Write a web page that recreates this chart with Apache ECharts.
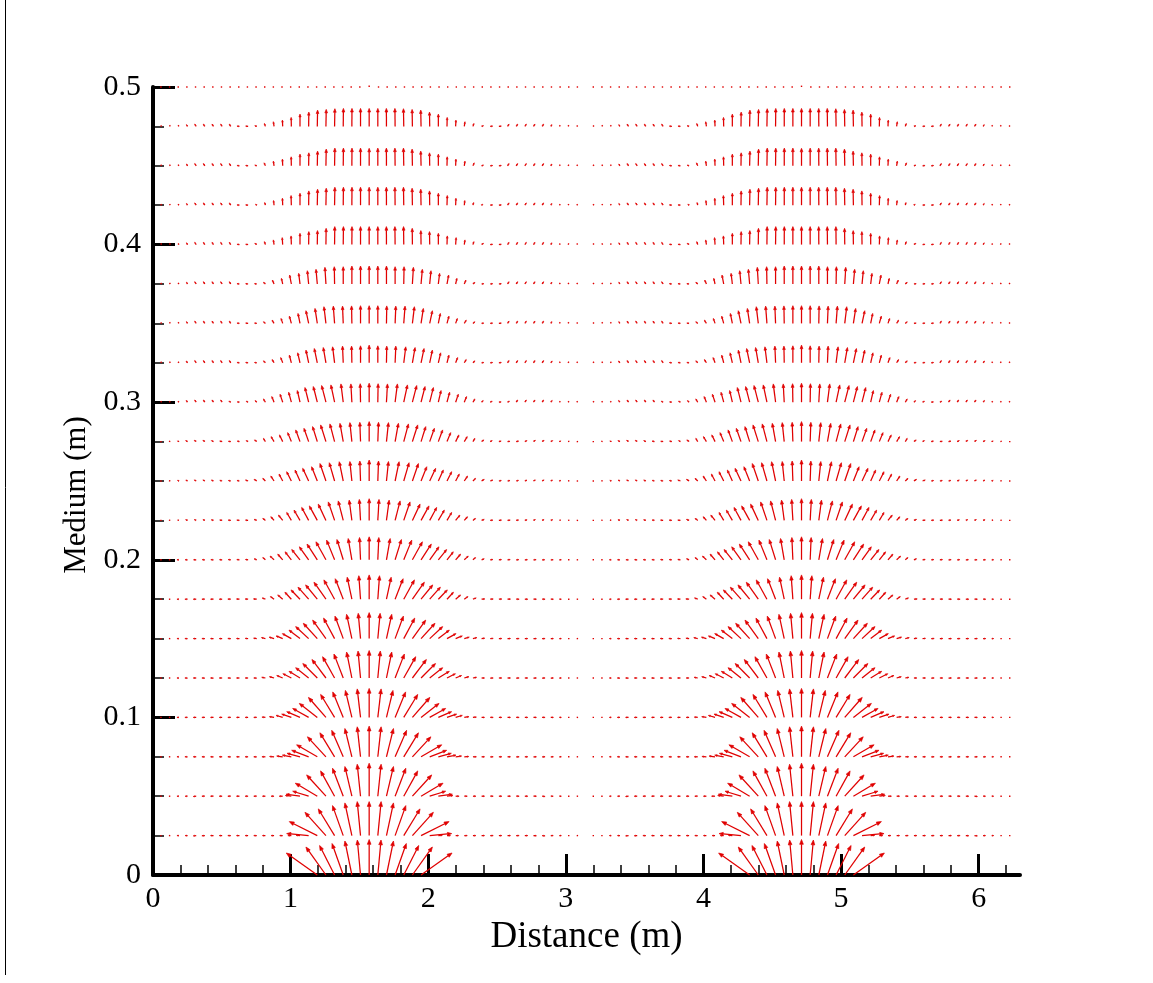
<!DOCTYPE html>
<html>
<head>
<meta charset="utf-8">
<script src="https://cdn.jsdelivr.net/npm/echarts@6/dist/echarts.min.js"></script>
<style>
html,body{margin:0;padding:0;background:#fff;}
#chart{width:1153px;height:983px;}
</style>
</head>
<body>
<div id="chart"></div>
<script>
// ---- axis / grid values ----
const xTickValues = [0, 1, 2, 3, 4, 5, 6];
const rowY = [0, 0.025, 0.05, 0.075, 0.1, 0.125, 0.15, 0.175, 0.2, 0.225, 0.25,
              0.275, 0.3, 0.325, 0.35, 0.375, 0.4, 0.425, 0.45, 0.475, 0.5];
const columnCount = 101;            // columns at k*pi/50, k = 0..100
const columnStep = Math.PI / 50;
const halfPeriod = 50;              // field repeats every 50 columns, mirrored about column 25

// ---- vector components (columns 0..25 of each period, left half of a bump) ----
const u00 = [0,0,0,0,0,0,0,0,0,0,0,0,0,0,0,0,0,0,0,-31,-20,-15,-11.2,-7,-3.2,0];
const v00 = [0,0,0,0,0,0,0,0,0,0,0,0,0,0,0,0,0,0,0,22,28,29.5,31.5,34,35,35.5];
const u01 = [0,-0.7,-1.2,-2,-2.5,-3,-3,-3,-3,-3,-3,-3,-3,-3,-3,-3,-3.5,-4,-22,-28,-21,-16.3,-10.7,-7,-3.3,0];
const v01 = [0,0,0,0,0,-0.3,-0.2,0,0,0,0,0,0,0,0,0,0,0.3,2,14,23.3,26.7,30,32.7,34,34];
const u02 = [0,-0.7,-1.2,-2,-2.5,-3,-3,-3,-3,-3,-3,-3,-3,-3,-3,-3.5,-6,-14,-16,-22,-19.3,-14,-10.7,-7,-3.3,0];
const v02 = [0,0,0,0,0,-0.3,0,0,0,0,0,0,0,0,0,0,0.7,2,5,13,21.3,25.3,28,29.7,32,33];
const u03 = [0,-0.7,-1.2,-2,-2.7,-3,-3,-3,-3,-3,-3,-3,-3,-3.5,-4.5,-6,-9,-13,-17,-20.7,-18.5,-14.7,-11.5,-7,-3.3,0];
const v03 = [0,0,0,0,0,0,0,0,0,0,0,0,0,0,0.3,0.8,1.7,3.5,6.5,12,20,24,26.5,28.3,30,30.7];
const u04 = [0,-0.7,-1.5,-2,-2.7,-3,-3,-3,-3,-3,-3,-3,-3,-3.5,-4.7,-6.7,-9.7,-13.3,-16,-18,-17.5,-14,-10.5,-6.5,-3.3,0];
const v04 = [0,0,0,0,0,0,0,0,0,0,0,0,0,0.3,0.7,2,3.3,5.7,9,14,20,23,25.5,27,28.5,29];
const u05 = [0,-0.7,-1.5,-2,-2.7,-3,-3,-3,-3,-3,-3,-3,-3,-3.7,-4.7,-6,-8.5,-11,-13,-14.5,-14,-12,-9.3,-5.3,-2.5,0];
const v05 = [0,0,0,0,0,0,0,0,0,0,0,0,0,0.7,1.3,2.5,4.3,6.7,10.3,14.5,18.5,21.3,24,26,27,27.5];
const u06 = [0,-0.7,-1.5,-2,-2.7,-3,-3,-3,-3,-3,-3,-3,-3.2,-4,-5,-6.7,-9,-11,-13,-14,-13.3,-11,-8.3,-5.3,-2.3,0];
const v06 = [0,0,0,0,0,0,0,0,0,0.1,0.1,0.2,0.4,1,1.5,2.7,5,8.5,12,15.3,18.5,20.5,22.5,24.3,25.3,26];
const u07 = [0,-0.7,-1.5,-2,-2.7,-3,-3,-3,-3,-3,-3,-3,-3.3,-3.3,-3.7,-5,-6.5,-9,-10.7,-11.7,-12,-10.7,-8,-4.7,-1.7,0];
const v07 = [0,0,0,0,0,0,0,0,0,0.1,0.2,0.2,0.3,1.3,2.7,4.3,7,9.3,12,14.3,17,19.3,20.5,22,23.5,24.3];
const u08 = [0,-0.7,-1.5,-2,-2.5,-2.7,-2.7,-2.7,-2.7,-2.7,-2.7,-2.7,-2.7,-2.7,-4,-5,-6.3,-8.3,-9.3,-10.3,-10,-8,-6.3,-3.7,-1,0];
const v08 = [0,0,0,0,0,0,0.1,0.1,0.1,0.2,0.2,0.3,1,2.3,3.7,5.7,8,10.3,13,15.7,18,19.7,20.3,21.3,22.3,23];
const u09 = [0,-0.5,-1,-1.5,-2,-2,-2,-2.3,-2.5,-2.7,-2.7,-2.7,-2.7,-2.7,-3.3,-4.3,-4.7,-6,-7,-8,-7.7,-6.3,-5,-2.7,-1.2,0];
const v09 = [0,0,0.2,0.4,0.7,0.8,0.8,0.6,0.4,0.3,0.3,0.3,1,2,3.7,5.3,8,10.3,13,14.5,16.3,18.5,19.5,20.3,21,21.7];
const u10 = [0,-0.5,-1,-1.5,-1.8,-2,-2,-2.2,-2.4,-2.5,-2.5,-2.7,-2.7,-2.7,-3.3,-3.7,-4.7,-5,-6,-5.7,-6,-5.3,-4,-2,-0.7,0];
const v10 = [0,0,0.3,0.6,1,1.1,1.1,0.9,0.6,0.5,0.5,1,1.7,2.7,5,7,9.3,11,12.7,14.3,17.5,18.3,19.3,19.5,20,21];
const u11 = [0,-0.5,-1,-1.5,-2,-2,-2,-2.2,-2.5,-2.5,-2.3,-2,-2.3,-2,-3,-3.3,-3.7,-4.3,-4.7,-4.7,-5.3,-4.7,-3.3,-2,-0.7,0];
const v11 = [0,0,0.3,0.7,1,1.3,1.3,1,0.5,0.3,0.5,1,1.7,3.3,5,6.7,9,11.7,13.3,15,16.7,17.7,18.3,19,19.3,20];
const u12 = [0,-0.3,-0.7,-1,-1.5,-1.6,-1.6,-1.6,-1.6,-2,-2.3,-2,-1.7,-2,-2.3,-2.7,-2.7,-2.7,-3.7,-4,-4.3,-3.7,-2.3,-1,-0.3,0];
const v12 = [0,0.3,0.7,1,1.8,2.2,2.2,2.2,2.2,1,0.3,1,1.7,3.3,5.7,8,10,11.7,14.7,15.7,16.7,17.3,18.3,18.3,18.5,19];
const u13 = [0,-0.3,-0.5,-0.8,-1.5,-1.6,-1.6,-1.6,-1.6,-1.6,-2.5,-2.5,-2.3,-2,-2,-2,-2,-2.3,-2.7,-3,-2.7,-2,-0.7,-0.3,0,0];
const v13 = [0,0.3,0.7,1,1.8,2.3,2.3,2.3,2.3,2.3,0.3,0.3,0.3,2,3.3,5.3,7.7,10,12.7,14.3,15.3,16,16.7,16.7,17,17.7];
const u14 = [0,-0.3,-0.5,-0.7,-1.2,-1.6,-1.6,-1.6,-1.6,-1.6,-2.5,-2.5,-2.3,-2,-2,-1.7,-2,-2,-2.7,-2.3,-2,-1.3,-0.7,-0.3,0,0];
const v14 = [0,0.3,0.7,0.9,1.8,2.3,2.3,2.3,2.3,2.3,0.3,0.3,0.3,1.7,3.3,5,7.3,10,12.7,15,16.7,17.3,17.3,17.5,17.7,17.7];
const u15 = [0,-0.3,-0.5,-0.7,-1.2,-1.6,-1.6,-1.6,-1.6,-1.6,-2.5,-2.5,-2.3,-2,-1.7,-1.3,-1.7,-1.3,-1.3,-1.3,-1,-0.3,0,0,0,0];
const v15 = [0,0.3,0.7,0.9,1.8,2.3,2.3,2.3,2.3,2.3,0.3,0.3,0.3,1.7,4,5.7,9,10.7,13.3,14.7,16.7,17.3,17.3,18,18,18];
const u16 = [0,-0.3,-0.5,-0.7,-1.2,-1.6,-1.6,-1.6,-1.6,-1.6,-2.5,-2.5,-2,-1,-0.7,-0.5,-0.3,0,0.2,0.2,0.2,0.2,0.2,0.1,0,0];
const v16 = [0,0.3,0.7,0.9,1.8,2.3,2.3,2.3,2.3,2.3,0.3,0.3,1.3,3,4.7,7,8.7,11.3,13,14,16.3,18,18,18,18,18];
const u17 = [0,-0.3,-0.5,-0.7,-1.2,-1.6,-1.6,-1.6,-1.6,-1.6,-2.5,-2.5,-1.3,-0.7,-0.5,-0.3,-0.3,0,0.2,0.3,0.3,0.3,0.2,0.1,0,0];
const v17 = [0,0.3,0.7,0.9,1.8,2.3,2.3,2.3,2.3,2.3,0.3,0.3,1,2.7,4.7,7,9.7,12,14.3,16,17,18,18,18,18,18];
const u18 = [0,-0.3,-0.5,-0.7,-1.2,-1.6,-1.6,-1.6,-1.6,-1.6,-2.5,-2.5,-2,-1.3,-0.7,-0.3,-0.2,0,0.2,0.3,0.3,0.3,0.2,0.1,0,0];
const v18 = [0,0.3,0.7,0.9,1.8,2.3,2.3,2.3,2.3,2.3,0.3,0.3,0.7,3,4.7,6.7,9,11.7,13,14.7,16.7,17.7,17.7,17.7,17.7,17.5];
const u19 = [0,-0.3,-0.5,-0.7,-1.2,-1.6,-1.6,-1.6,-1.6,-1.6,-2.5,-2.5,-2,-1,-0.7,-0.3,-0.2,0,0.2,0.3,0.3,0.3,0.2,0.1,0,0];
const v19 = [0,0.3,0.7,0.9,1.8,2.3,2.3,2.3,2.3,2.3,0.3,0.3,0.7,3,4.7,6.3,9,12.3,14.3,16.3,17,17.7,18,18,18,18];
const u20 = [0,-0.8,-0.8,-0.8,-0.8,-0.8,-0.8,-0.8,-0.8,-0.8,-0.8,-0.8,-0.8,-0.8,-0.8,-0.8,-0.8,-0.8,-0.8,-0.8,-0.8,-0.8,-0.8,-0.8,-0.8,0];
const v20 = [0,0,0,0,0,0,0,0,0,0,0,0,0,0,0,0,0,0,0,0,0,0,0,0,0,0.8];

const uRows = [u00,u01,u02,u03,u04,u05,u06,u07,u08,u09,u10,u11,u12,u13,u14,u15,u16,u17,u18,u19,u20];
const vRows = [v00,v01,v02,v03,v04,v05,v06,v07,v08,v09,v10,v11,v12,v13,v14,v15,v16,v17,v18,v19,v20];

// ---- build the vector table: [x, y, u, v] ----
const vectorData = [];
for (let j = 0; j < rowY.length; j++) {
  for (let k = 0; k < columnCount; k++) {
    const m = k % halfPeriod;
    const mirrored = m > 25;
    const idx = mirrored ? halfPeriod - m : m;
    const u = uRows[j][idx] * (mirrored ? -1 : 1);
    const v = vRows[j][idx];
    vectorData.push([k * columnStep, rowY[j], u, v]);
  }
}

const VEC_PX = 1;          // pixels per vector unit
const RED = '#e00000';

function renderArrow(params, api) {
  const p = api.coord([api.value(0), api.value(1)]);
  const dx = api.value(2) * VEC_PX;
  const dy = -api.value(3) * VEC_PX;
  const len = Math.sqrt(dx * dx + dy * dy);
  if (len < 0.05) return null;
  const tip = [p[0] + dx, p[1] + dy];
  if (len < 1.6) {
    const s = 1.4 / len;
    return { type: 'line', shape: { x1: p[0], y1: p[1], x2: p[0] + dx * s, y2: p[1] + dy * s },
             style: { stroke: RED, lineWidth: 1.4 } };
  }
  const ux = dx / len, uy = dy / len;
  const hl = Math.min(4.8, Math.max(1.4, 0.14 * len + 1.1));
  const hw = hl * 0.38;
  const base = [tip[0] - ux * hl, tip[1] - uy * hl];
  const left = [base[0] - uy * hw, base[1] + ux * hw];
  const right = [base[0] + uy * hw, base[1] - ux * hw];
  return {
    type: 'group',
    children: [
      { type: 'line', shape: { x1: p[0], y1: p[1], x2: base[0], y2: base[1] },
        style: { stroke: RED, lineWidth: 1.25 } },
      { type: 'polygon', shape: { points: [tip, left, right] },
        style: { fill: RED, stroke: RED, lineWidth: 0.7 } }
    ]
  };
}

const chart = echarts.init(document.getElementById('chart'), null, { renderer: 'canvas' });
const serif = 'Liberation Serif, Times New Roman, serif';
chart.setOption({
  backgroundColor: '#ffffff',
  animation: false,
  grid: { left: 153, right: 133, top: 87, bottom: 108, containLabel: false },
  xAxis: {
    type: 'value', min: 0, max: 6.3, interval: 1,
    name: 'Distance (m)', nameLocation: 'middle', nameGap: 36,
    nameTextStyle: { fontFamily: serif, fontSize: 37, color: '#000' },
    axisLine: { show: true, onZero: false, lineStyle: { color: '#000', width: 4 } },
    axisTick: { show: true, inside: true, length: 21, customValues: xTickValues,
                lineStyle: { color: '#000', width: 3 } },
    minorTick: { show: true, splitNumber: 5, length: 10, lineStyle: { color: '#000', width: 1.5 } },
    axisLabel: { customValues: xTickValues, fontFamily: serif, fontSize: 30, color: '#000', margin: 9 },
    splitLine: { show: false }, minorSplitLine: { show: false }
  },
  yAxis: {
    type: 'value', min: 0, max: 0.5, interval: 0.1,
    name: 'Medium (m)', nameLocation: 'middle', nameGap: 52,
    nameTextStyle: { fontFamily: serif, fontSize: 31, color: '#000', padding: [0, 28, 0, 0] },
    axisLine: { show: true, onZero: false, lineStyle: { color: '#000', width: 4 } },
    axisTick: { show: true, inside: true, length: 22, lineStyle: { color: '#000', width: 3 } },
    minorTick: { show: true, splitNumber: 4, length: 11, lineStyle: { color: '#000', width: 1.5 } },
    axisLabel: { fontFamily: serif, fontSize: 30, color: '#000', margin: 12 },
    splitLine: { show: false }, minorSplitLine: { show: false }
  },
  graphic: [
    { type: 'line', shape: { x1: 5.5, y1: 0, x2: 5.5, y2: 975 }, style: { stroke: '#000', lineWidth: 1 } }
  ],
  series: [{
    type: 'custom',
    renderItem: renderArrow,
    data: vectorData,
    encode: { x: 0, y: 1 },
    z: 1,
    clip: false
  }]
});
</script>
</body>
</html>
